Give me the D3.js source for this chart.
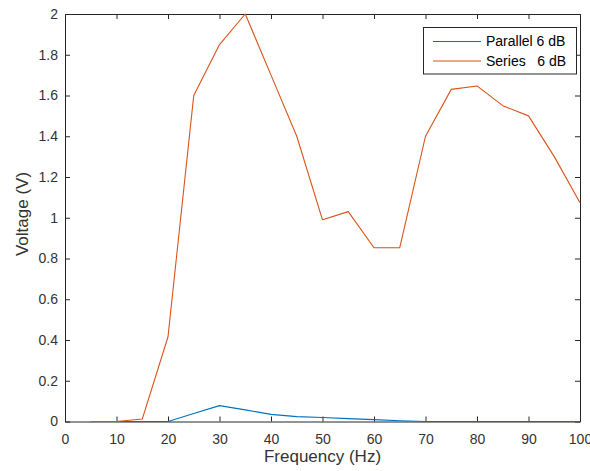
<!DOCTYPE html>
<html>
<head>
<meta charset="utf-8">
<script src="https://cdn.jsdelivr.net/npm/d3@7"></script>
<style>
  body { margin: 0; background: #fff; }
  svg { display: block; font-family: Arial, "Liberation Sans", Helvetica, sans-serif; }
</style>
</head>
<body>
<div id="chart-container"></div>
<script>
// data
const freq = [5, 10, 15, 20, 25, 30, 35, 40, 45, 50, 55, 60, 65, 70, 75, 80, 85, 90, 95, 100];
const parallel6dB = [0, 0, 0, 0, 0.039, 0.078, 0.057, 0.035, 0.024, 0.02, 0.014, 0.009, 0.004, 0, 0, 0, 0, 0, 0, 0];
const series6dB = [0, 0, 0.012, 0.416, 1.6, 1.85, 2.0, 1.7, 1.4, 0.99, 1.03, 0.853, 0.853, 1.4, 1.63, 1.647, 1.55, 1.5, 1.3, 1.074];
const seriesNames = ["Parallel 6 dB", "Series   6 dB"];
const xTicks = [0, 10, 20, 30, 40, 50, 60, 70, 80, 90, 100];
const yTicks = [0, 0.2, 0.4, 0.6, 0.8, 1, 1.2, 1.4, 1.6, 1.8, 2];

const w = 590;
const h = 471;
const margin = { left: 65, right: 10, top: 14, bottom: 49.5 };
const axisColor = "#262626";
const colors = ["#0072BD", "#D95319"];

const svg = d3
  .select("#chart-container")
  .append("svg")
  .attr("width", w)
  .attr("height", h);

// scales
const xScale = d3.scaleLinear().domain([0, 100]).range([margin.left, w - margin.right]);
const yScale = d3.scaleLinear().domain([0, 2]).range([h - margin.bottom, margin.top]);

const tickLen = 5;
const fmt = (d) => d3.format("~g")(d);

// bottom & left axes (ticks inward, like matlab)
const xAxis = d3.axisBottom(xScale).tickValues(xTicks).tickFormat(fmt).tickSizeInner(-tickLen).tickSizeOuter(0).tickPadding(12.5);
const yAxis = d3.axisLeft(yScale).tickValues(yTicks).tickFormat(fmt).tickSizeInner(-tickLen).tickSizeOuter(0).tickPadding(7);

svg.append("g")
  .attr("transform", "translate(0," + yScale(0) + ")")
  .call(xAxis);

svg.append("g")
  .attr("transform", "translate(" + xScale(0) + ",0)")
  .call(yAxis);

// top & right axes (box), no labels
svg.append("g")
  .attr("transform", "translate(0," + yScale(2) + ")")
  .call(d3.axisTop(xScale).tickValues(xTicks).tickFormat("").tickSizeInner(-tickLen).tickSizeOuter(0));

svg.append("g")
  .attr("transform", "translate(" + xScale(100) + ",0)")
  .call(d3.axisRight(yScale).tickValues(yTicks).tickFormat("").tickSizeInner(-tickLen).tickSizeOuter(0));

svg.selectAll(".domain").attr("stroke", axisColor).attr("stroke-width", 1);
svg.selectAll(".tick line").attr("stroke", axisColor).attr("stroke-width", 1);
svg.selectAll(".tick text").attr("fill", "#333").style("font-size", "14px");

// lines
const line = d3.line()
  .x((d) => xScale(d[0]))
  .y((d) => yScale(d[1]));

[parallel6dB, series6dB].forEach((vals, i) => {
  svg.append("path")
    .datum(freq.map((f, j) => [f, vals[j]]))
    .attr("fill", "none")
    .attr("stroke", colors[i])
    .attr("stroke-width", 1.1)
    .attr("stroke-linejoin", "round")
    .attr("d", line);
});

// axis labels
svg.append("text")
  .attr("x", 322.5)
  .attr("y", 461.5)
  .attr("text-anchor", "middle")
  .attr("fill", "#333")
  .style("font-size", "17px")
  .text("Frequency (Hz)");

svg.append("text")
  .attr("transform", "translate(28,214) rotate(-90)")
  .attr("text-anchor", "middle")
  .attr("fill", "#333")
  .style("font-size", "17px")
  .text("Voltage (V)");

// legend
const legend = svg.append("g");
legend.append("rect")
  .attr("x", 423.5)
  .attr("y", 27.5)
  .attr("width", 153)
  .attr("height", 46.5)
  .attr("fill", "#fff")
  .attr("stroke", axisColor)
  .attr("stroke-width", 1);

seriesNames.forEach((name, i) => {
  const y = 41.5 + i * 19.5;
  legend.append("line")
    .attr("x1", 433).attr("x2", 481)
    .attr("y1", y).attr("y2", y)
    .attr("stroke", colors[i])
    .attr("stroke-width", 1.1);
  legend.append("text")
    .attr("x", 486)
    .attr("y", y)
    .attr("dy", "0.35em")
    .attr("fill", "#000")
    .style("font-size", "14px")
    .style("white-space", "pre")
    .text(name);
});
</script>
</body>
</html>
